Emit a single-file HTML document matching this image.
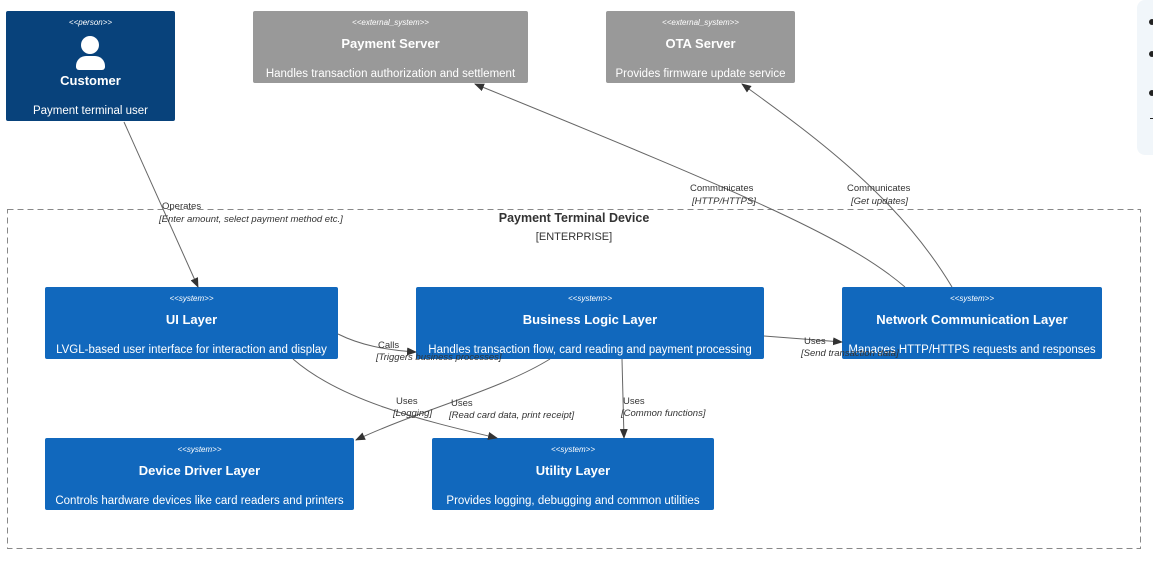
<!DOCTYPE html>
<html><head><style>
body{margin:0;width:1153px;height:564px;background:#fff;position:relative;overflow:hidden;font-family:"Liberation Sans",sans-serif}
.b{position:absolute;color:#fff;text-align:center;border-radius:2px;box-sizing:border-box}
.st{position:absolute;left:0;right:0;top:7px;font-size:8px;font-style:italic}
.t{position:absolute;left:0;right:0;font-size:13px;font-weight:bold}
.d{position:absolute;left:0;right:0;font-size:11.5px;white-space:nowrap}
.sys{background:#1168bd;height:72px}
.ext{background:#999;height:72px}
.l{position:absolute;font-size:9.5px;color:#333;white-space:nowrap}
.i{font-style:italic}
</style></head><body>
<div style="position:absolute;left:1137px;top:0;width:30px;height:155px;background:#f1f6fa;border-radius:8px"></div>
<div style="position:absolute;left:1149px;top:19px;width:6px;height:6px;border-radius:3px;background:#222"></div>
<div style="position:absolute;left:1149px;top:51px;width:6px;height:6px;border-radius:3px;background:#222"></div>
<div style="position:absolute;left:1149px;top:90px;width:6px;height:6px;border-radius:3px;background:#222"></div>
<div style="position:absolute;left:1150px;top:118px;width:4px;height:1px;background:#222"></div>
<svg width="1153" height="564" style="position:absolute;left:0;top:0"><rect x="7.5" y="209.5" width="1133" height="339" fill="none" stroke="#888" stroke-dasharray="6,4"/></svg>
<div style="position:absolute;left:7px;top:211px;width:1134px;text-align:center;font-size:12.5px;font-weight:bold;color:#333">Payment Terminal Device</div>
<div style="position:absolute;left:7px;top:231px;width:1134px;text-align:center;font-size:11px;color:#333">[ENTERPRISE]</div>

<div class="b" style="left:6px;top:11px;width:169px;height:110px;background:#08427b">
<div class="st">&lt;&lt;person&gt;&gt;</div>
<div style="position:absolute;left:75px;top:25px;width:18px;height:18px;border-radius:9px;background:#fff"></div>
<div style="position:absolute;left:70px;top:45px;width:29px;height:14px;border-radius:10px 10px 3px 3px;background:#fff"></div>
<div class="t" style="top:62px">Customer</div>
<div class="d" style="top:94px">Payment terminal user</div></div>

<div class="b ext" style="left:253px;top:11px;width:275px"><div class="st">&lt;&lt;external_system&gt;&gt;</div><div class="t" style="top:25px">Payment Server</div><div class="d" style="top:57px">Handles transaction authorization and settlement</div></div>
<div class="b ext" style="left:606px;top:11px;width:189px"><div class="st">&lt;&lt;external_system&gt;&gt;</div><div class="t" style="top:25px">OTA Server</div><div class="d" style="top:57px">Provides firmware update service</div></div>

<div class="b sys" style="left:45px;top:287px;width:293px"><div class="st">&lt;&lt;system&gt;&gt;</div><div class="t" style="top:25px">UI Layer</div><div class="d" style="top:57px">LVGL-based user interface for interaction and display</div></div>
<div class="b sys" style="left:416px;top:287px;width:348px"><div class="st">&lt;&lt;system&gt;&gt;</div><div class="t" style="top:25px">Business Logic Layer</div><div class="d" style="top:57px">Handles transaction flow, card reading and payment processing</div></div>
<div class="b sys" style="left:842px;top:287px;width:260px"><div class="st">&lt;&lt;system&gt;&gt;</div><div class="t" style="top:25px">Network Communication Layer</div><div class="d" style="top:57px">Manages HTTP/HTTPS requests and responses</div></div>
<div class="b sys" style="left:45px;top:438px;width:309px"><div class="st">&lt;&lt;system&gt;&gt;</div><div class="t" style="top:25px">Device Driver Layer</div><div class="d" style="top:57px">Controls hardware devices like card readers and printers</div></div>
<div class="b sys" style="left:432px;top:438px;width:282px"><div class="st">&lt;&lt;system&gt;&gt;</div><div class="t" style="top:25px">Utility Layer</div><div class="d" style="top:57px">Provides logging, debugging and common utilities</div></div>

<svg width="1153" height="564" style="position:absolute;left:0;top:0">
<defs><marker id="a" markerWidth="10" markerHeight="8" refX="9" refY="4" orient="auto" markerUnits="userSpaceOnUse"><path d="M0,0L10,4L0,8z" fill="#333"/></marker></defs>
<g stroke="#666" fill="none" stroke-width="1" marker-end="url(#a)">
<path d="M124,122 L198,287"/>
<path d="M905,287 C850,240 760,200 475,84"/>
<path d="M952,287 C900,200 820,140 742,84"/>
<path d="M338,334 C360,345 385,350 416,352"/>
<path d="M764,336 L842,342"/>
<path d="M293,359 C340,400 420,420 497,438"/>
<path d="M550,359 C500,390 420,410 356,440"/>
<path d="M622,359 L624,438"/>
</g></svg>

<div class="l" style="left:162px;top:201px">Operates</div>
<div class="l i" style="left:159px;top:214px">[Enter amount, select payment method etc.]</div>
<div class="l" style="left:690px;top:183px">Communicates</div>
<div class="l i" style="left:692px;top:196px">[HTTP/HTTPS]</div>
<div class="l" style="left:847px;top:183px">Communicates</div>
<div class="l i" style="left:851px;top:196px">[Get updates]</div>
<div class="l" style="left:378px;top:340px">Calls</div>
<div class="l i" style="left:376px;top:352px">[Triggers business processes]</div>
<div class="l" style="left:804px;top:336px">Uses</div>
<div class="l i" style="left:801px;top:348px">[Send transaction data]</div>
<div class="l" style="left:396px;top:396px">Uses</div>
<div class="l i" style="left:393px;top:408px">[Logging]</div>
<div class="l" style="left:451px;top:398px">Uses</div>
<div class="l i" style="left:449px;top:410px">[Read card data, print receipt]</div>
<div class="l" style="left:623px;top:396px">Uses</div>
<div class="l i" style="left:621px;top:408px">[Common functions]</div>
</body></html>
